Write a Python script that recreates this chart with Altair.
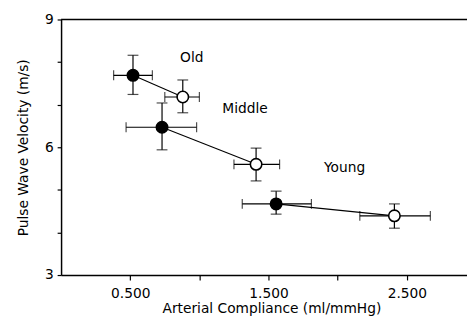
import altair as alt
import pandas as pd

groups = ["Old", "Old", "Middle", "Middle", "Young", "Young"]
filled = [True, False, True, False, True, False]
compliance = [0.52, 0.88, 0.73, 1.41, 1.555, 2.41]
pwv = [7.69, 7.18, 6.47, 5.60, 4.67, 4.39]
x_lo = [0.38, 0.75, 0.47, 1.25, 1.31, 2.16]
x_hi = [0.66, 1.00, 0.98, 1.58, 1.81, 2.67]
y_lo = [7.24, 6.81, 5.94, 5.21, 4.43, 4.10]
y_hi = [8.16, 7.58, 7.04, 5.98, 4.97, 4.67]

label_text = ["Old", "Middle", "Young"]
label_x = [0.945, 1.33, 2.05]
label_y = [8.10, 6.90, 5.51]

df = pd.DataFrame({
    "group": groups, "filled": filled, "x": compliance, "y": pwv,
    "xlo": x_lo, "xhi": x_hi, "ylo": y_lo, "yhi": y_hi,
})
df["fill"] = ["black" if f else "white" for f in filled]
labels = pd.DataFrame({"t": label_text, "x": label_x, "y": label_y})
top_df = pd.DataFrame({"v": [9]})

FONT = "DejaVu Sans"
xs = alt.Scale(domain=[0, 2.935], nice=False, zero=False)
ys = alt.Scale(domain=[3, 9], nice=False, zero=False)

X = alt.X("x:Q", scale=xs, axis=alt.Axis(
    title="Arterial Compliance (ml/mmHg)", values=[0.5, 1.0, 1.5, 2.0, 2.5],
    labelExpr="(datum.value * 2) % 2 == 1 ? format(datum.value, '.3f') : ''",
    grid=False, tickSize=5, labelPadding=7, titlePadding=1, titleX=214,
    titleAnchor="start", titleAlign="center"))
Y = alt.Y("y:Q", scale=ys, axis=alt.Axis(
    title="Pulse Wave Velocity (m/s)", values=[3, 4, 5, 6, 7, 8, 9],
    labelExpr="datum.value % 3 == 0 ? datum.value : ''",
    grid=False, tickSize=4, labelPadding=4, titlePadding=14))

base = alt.Chart(df)
SW = 1.2

hbar = base.mark_rule(color="black", strokeWidth=SW).encode(
    x=alt.X("xlo:Q", scale=xs), x2="xhi:Q", y=alt.Y("y:Q", scale=ys))
vbar = base.mark_rule(color="black", strokeWidth=SW).encode(
    x=alt.X("x:Q", scale=xs), y=alt.Y("ylo:Q", scale=ys), y2="yhi:Q")
cap_xlo = base.mark_tick(orient="vertical", size=10, thickness=SW, color="black").encode(
    x=alt.X("xlo:Q", scale=xs), y=alt.Y("y:Q", scale=ys))
cap_xhi = base.mark_tick(orient="vertical", size=10, thickness=SW, color="black").encode(
    x=alt.X("xhi:Q", scale=xs), y=alt.Y("y:Q", scale=ys))
cap_ylo = base.mark_tick(orient="horizontal", size=11, thickness=SW, color="black").encode(
    x=alt.X("x:Q", scale=xs), y=alt.Y("ylo:Q", scale=ys))
cap_yhi = base.mark_tick(orient="horizontal", size=11, thickness=SW, color="black").encode(
    x=alt.X("x:Q", scale=xs), y=alt.Y("yhi:Q", scale=ys))

lines = base.mark_line(color="black", strokeWidth=1.1).encode(
    x=X, y=Y, detail="group:N")

points = base.mark_point(shape="circle", size=135, strokeWidth=1.6, opacity=1,
                         stroke="black").encode(
    x=alt.X("x:Q", scale=xs), y=alt.Y("y:Q", scale=ys),
    fill=alt.Fill("fill:N", scale=None))

top = alt.Chart(top_df).mark_rule(color="black", strokeWidth=1.5).encode(
    y=alt.Y("v:Q", scale=ys))

text = alt.Chart(labels).mark_text(font=FONT, fontSize=14, color="black").encode(
    x=alt.X("x:Q", scale=xs), y=alt.Y("y:Q", scale=ys), text="t:N")

chart = alt.layer(lines, hbar, vbar, cap_xlo, cap_xhi, cap_ylo, cap_yhi,
                  points, text, top).properties(
    width=413, height=260,
    autosize=alt.AutoSizeParams(type="none"),
    padding={"left": 54, "top": 9, "right": 0, "bottom": 40},
).configure_view(stroke=None).configure_axis(
    domainColor="black", domainWidth=1.5, tickColor="black", tickWidth=1.2,
    labelColor="black", titleColor="black", labelFont=FONT, titleFont=FONT,
    labelFontSize=14, titleFontSize=14, titleFontWeight="normal",
)

chart.save("out.html", embed_options={"renderer": "svg", "actions": False})
